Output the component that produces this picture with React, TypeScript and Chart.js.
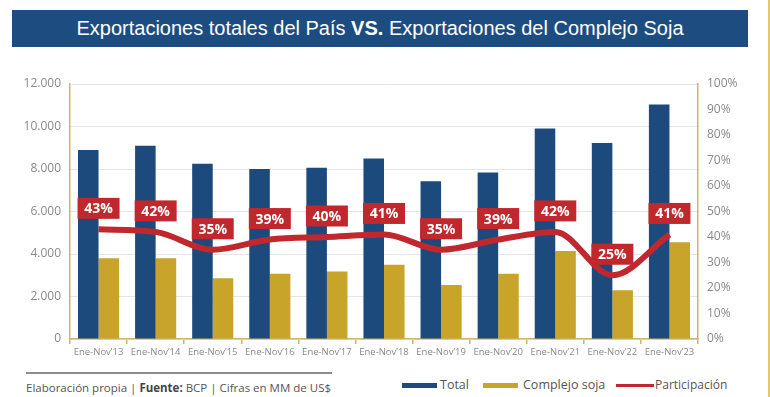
import React, { useEffect, useRef } from "react";
import { Chart, registerables } from "chart.js";

Chart.register(...registerables);

const categories = [
  "Ene-Nov’13", "Ene-Nov’14", "Ene-Nov’15", "Ene-Nov’16", "Ene-Nov’17", "Ene-Nov’18",
  "Ene-Nov’19", "Ene-Nov’20", "Ene-Nov’21", "Ene-Nov’22", "Ene-Nov’23",
];
const totalValues = [8900, 9100, 8250, 8000, 8060, 8490, 7420, 7840, 9910, 9220, 11040];
const sojaValues = [3800, 3800, 2860, 3070, 3180, 3500, 2540, 3070, 4140, 2290, 4550];
const participacion = [43, 42, 35, 39, 40, 41, 35, 39, 42, 25, 41];

const NAVY = "#1c4a7c";
const GOLD = "#c9a42a";
const RED = "#c1282d";
const AXIS_GOLD = "#cdb56a";

const fmtThousands = (v: number) => String(v).replace(/\B(?=(\d{3})+(?!\d))/g, ".");

const labelPlugin = {
  id: "pctLabels",
  afterDatasetsDraw(chart: any) {
    const meta = chart.getDatasetMeta(2);
    const ctx = chart.ctx;
    ctx.save();
    meta.data.forEach((pt: any, i: number) => {
      const cx = pt.x;
      const cy = pt.y - 21;
      const w = 42;
      const h = 21;
      ctx.fillStyle = RED;
      ctx.fillRect(cx - w / 2, cy - h / 2, w, h);
      ctx.fillStyle = "#ffffff";
      ctx.font = "bold 14px 'Open Sans'";
      ctx.textAlign = "center";
      ctx.textBaseline = "middle";
      ctx.fillText(participacion[i] + "%", cx, cy + 1);
    });
    ctx.restore();
  },
};

export default function App() {
  const ref = useRef<HTMLCanvasElement>(null);

  useEffect(() => {
    if (!ref.current) return;
    const chart = new Chart(ref.current, {
      type: "bar",
      data: {
        labels: categories,
        datasets: [
          {
            label: "Total",
            data: totalValues,
            backgroundColor: NAVY,
            yAxisID: "y",
            order: 1,
            categoryPercentage: 0.72,
            barPercentage: 1.0,
          },
          {
            label: "Complejo soja",
            data: sojaValues,
            backgroundColor: GOLD,
            yAxisID: "y",
            order: 1,
            categoryPercentage: 0.72,
            barPercentage: 1.0,
          },
          {
            type: "line",
            label: "Participación",
            data: participacion,
            borderColor: RED,
            backgroundColor: RED,
            borderWidth: 6,
            pointRadius: 0,
            tension: 0.4,
            cubicInterpolationMode: "monotone",
            yAxisID: "y1",
            order: 0,
          } as any,
        ],
      },
      options: {
        animation: false,
        responsive: false,
        maintainAspectRatio: false,
        layout: { padding: { top: 24, left: 0, right: 0, bottom: 0 } },
        plugins: {
          legend: { display: false },
          tooltip: { enabled: false },
          title: { display: false },
        },
        scales: {
          x: {
            grid: {
              display: true,
              drawOnChartArea: false,
              drawTicks: true,
              tickLength: 5,
              color: AXIS_GOLD,
              lineWidth: 1.5,
              offset: true,
            },
            border: { display: true, color: AXIS_GOLD, width: 1.5 },
            ticks: {
              color: "#8a8a8a",
              font: { family: "'Open Sans'", size: 9.5 },
              maxRotation: 0,
              autoSkip: false,
              padding: 3,
            },
            afterFit(scale: any) {
              scale.height = 31;
            },
          },
          y: {
            position: "left",
            min: 0,
            max: 12000,
            ticks: {
              stepSize: 2000,
              color: "#8a8a8a",
              font: { family: "'Open Sans'", size: 12 },
              padding: 9,
              callback: (v: any) => fmtThousands(Number(v)),
            },
            grid: { color: "#e6e6e6", lineWidth: 1, drawTicks: false },
            border: { display: true, color: AXIS_GOLD, width: 1.5 },
            afterFit(scale: any) {
              scale.width = 70;
            },
          },
          y1: {
            position: "right",
            min: 0,
            max: 100,
            ticks: {
              stepSize: 10,
              color: "#8a8a8a",
              font: { family: "'Open Sans'", size: 12 },
              padding: 9,
              callback: (v: any) => v + "%",
            },
            grid: { drawOnChartArea: false, drawTicks: false },
            border: { display: true, color: AXIS_GOLD, width: 1.5 },
            afterFit(scale: any) {
              scale.width = 72;
            },
          },
        },
      },
      plugins: [labelPlugin],
    });
    return () => chart.destroy();
  }, []);

  const legendText: React.CSSProperties = {
    fontFamily: "'Open Sans', sans-serif",
    fontSize: 12.5,
    color: "#555",
    position: "absolute",
    top: 376,
    lineHeight: "18px",
    whiteSpace: "nowrap",
  };

  return (
    <div style={{ position: "fixed", left: 0, top: 0, width: 770, height: 397, background: "#fff", overflow: "hidden" }}>
      <div
        style={{
          position: "absolute",
          left: 12,
          top: 10,
          width: 736,
          height: 37,
          background: "#1d4d80",
          color: "#fff",
          fontFamily: "'Liberation Sans', Arial, sans-serif",
          fontSize: 20,
          lineHeight: "37px",
          textAlign: "center",
          whiteSpace: "nowrap",
        }}
      >
        Exportaciones totales del País <b>VS.</b> Exportaciones del Complejo Soja
      </div>
      <div style={{ position: "absolute", left: 768, top: 0, width: 2, height: 397, background: "#e3c76a" }} />
      <canvas ref={ref} width={770} height={310} style={{ position: "absolute", left: 0, top: 60, width: 770, height: 310 }} />
      <div style={{ position: "absolute", left: 26, top: 372, width: 306, height: 1.5, background: "#8c8c8c" }} />
      <div style={{ ...legendText, left: 26, top: 379, fontSize: 11.5 }}>
        Elaboración propia | <b style={{ color: "#444" }}>Fuente:</b> BCP | Cifras en MM de US$
      </div>
      <div style={{ position: "absolute", left: 402, top: 383, width: 35, height: 5, background: NAVY }} />
      <div style={{ ...legendText, left: 440 }}>Total</div>
      <div style={{ position: "absolute", left: 483, top: 383, width: 35, height: 5, background: GOLD }} />
      <div style={{ ...legendText, left: 523 }}>Complejo soja</div>
      <div style={{ position: "absolute", left: 616, top: 384, width: 38, height: 3, background: RED }} />
      <div style={{ ...legendText, left: 655, fontSize: 12 }}>Participación</div>
    </div>
  );
}
